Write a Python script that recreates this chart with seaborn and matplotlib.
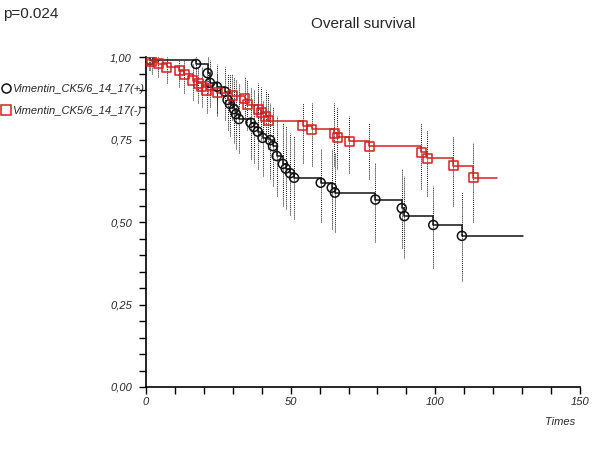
import numpy as np
import pandas as pd
import matplotlib
matplotlib.use("Agg")
import matplotlib.pyplot as plt
from matplotlib.lines import Line2D
from matplotlib.ticker import MultipleLocator, FixedLocator, FuncFormatter
import seaborn as sns

# Kaplan-Meier estimates
pos_times = [1.4, 17.3, 21.3, 22.1, 24.5, 27.3, 28.2, 29.0, 30.4, 31.1, 32.1, 36.2, 37.3, 38.6,
             40.3, 42.9, 43.9, 45.2, 47.3, 48.3, 49.8, 51.2, 60.4, 64.2, 65.3, 79.3, 88.4, 89.3,
             99.3, 109.2]
pos_surv = [0.991, 0.979, 0.951, 0.922, 0.910, 0.895, 0.870, 0.858, 0.842, 0.827, 0.812, 0.801,
            0.788, 0.774, 0.755, 0.748, 0.730, 0.700, 0.676, 0.662, 0.648, 0.634, 0.619, 0.604,
            0.589, 0.568, 0.542, 0.518, 0.491, 0.458]
pos_lo = [0.96, 0.94, 0.89, 0.85, 0.83, 0.81, 0.78, 0.76, 0.74, 0.72, 0.71, 0.69, 0.68, 0.66,
          0.64, 0.63, 0.61, 0.58, 0.55, 0.54, 0.52, 0.51, 0.50, 0.48, 0.47, 0.44, 0.42, 0.39,
          0.36, 0.32]
pos_hi = [1.00, 1.00, 1.00, 0.99, 0.98, 0.97, 0.95, 0.95, 0.94, 0.93, 0.92, 0.91, 0.90, 0.89,
          0.87, 0.86, 0.85, 0.82, 0.80, 0.79, 0.77, 0.76, 0.72, 0.72, 0.71, 0.68, 0.66, 0.64,
          0.61, 0.59]
pos_end = 130.2

neg_times = [1.1, 2.0, 4.3, 7.2, 11.5, 13.2, 16.1, 18.1, 19.3, 21.0, 24.6, 29.8, 34.2, 35.0,
             38.8, 39.8, 41.4, 42.3, 54.2, 57.3, 65.0, 66.1, 70.2, 77.2, 95.1, 97.2, 106.2, 113.1]
neg_surv = [0.991, 0.986, 0.979, 0.969, 0.958, 0.948, 0.928, 0.920, 0.910, 0.900, 0.892, 0.882,
            0.873, 0.855, 0.842, 0.831, 0.821, 0.807, 0.791, 0.781, 0.769, 0.757, 0.745, 0.730,
            0.711, 0.693, 0.670, 0.634]
neg_lo = [0.96, 0.95, 0.94, 0.92, 0.91, 0.89, 0.87, 0.86, 0.85, 0.83, 0.82, 0.81, 0.80, 0.78,
          0.76, 0.75, 0.74, 0.72, 0.68, 0.67, 0.67, 0.66, 0.65, 0.63, 0.60, 0.58, 0.55, 0.50]
neg_hi = [1.00, 1.00, 1.00, 1.00, 0.99, 0.99, 0.98, 0.97, 0.97, 0.96, 0.95, 0.95, 0.94, 0.93,
          0.92, 0.91, 0.90, 0.89, 0.86, 0.86, 0.86, 0.85, 0.82, 0.80, 0.80, 0.78, 0.76, 0.74]
neg_end = 121.2

labels = ["Vimentin_CK5/6_14_17(+)", "Vimentin_CK5/6_14_17(-)"]
p_text = "p=0.024"

sns.set_style("ticks")
plt.rcParams['font.family'] = ['Liberation Sans', 'DejaVu Sans']

fig = plt.figure(figsize=(6, 4.5), dpi=100)
ax = fig.add_axes([0.2433, 0.14, 0.7233, 0.7333])

red = "#d42020"
groups = [
    (pos_times, pos_surv, pos_lo, pos_hi, pos_end, "#111111", "o", 6.5),
    (neg_times, neg_surv, neg_lo, neg_hi, neg_end, red, "s", 6.5),
]

for times, surv, lo, hi, end, col, mk, ms in groups:
    # confidence intervals as dotted vertical lines
    ax.vlines(times, lo, hi, colors="#111111", linestyles=(0, (1, 1)), linewidth=0.7, zorder=1)
    step = pd.DataFrame({"t": [0] + times + [end], "s": [1.0] + surv + [surv[-1]]})
    sns.lineplot(data=step, x="t", y="s", drawstyle="steps-post", color=col, linewidth=1.1,
                 estimator=None, sort=False, ax=ax, zorder=2)
    pts = pd.DataFrame({"t": times, "s": surv})
    sns.scatterplot(data=pts, x="t", y="s", marker=mk, s=ms ** 2, facecolor="none",
                    edgecolor=col, linewidth=1.1, ax=ax, zorder=3)

ax.set_xlim(0, 150)
ax.set_ylim(0, 1)
sns.despine(ax=ax)
for sp in ["left", "bottom"]:
    ax.spines[sp].set_color("black")
    ax.spines[sp].set_linewidth(1.2)

ax.xaxis.set_major_locator(FixedLocator([0, 50, 100, 150]))
ax.xaxis.set_minor_locator(MultipleLocator(10))
ax.yaxis.set_major_locator(FixedLocator([0, 0.25, 0.5, 0.75, 1.0]))
ax.yaxis.set_minor_locator(MultipleLocator(0.05))
ax.yaxis.set_major_formatter(FuncFormatter(lambda v, p: f"{v:.2f}".replace(".", ",")))
ax.tick_params(which="both", direction="out", length=5, width=1, color="black", labelsize=8)
ax.tick_params(axis="x", pad=2)
ax.tick_params(axis="y", pad=5)
for lab in ax.get_xticklabels() + ax.get_yticklabels():
    lab.set_fontstyle("italic")

ax.set_xlabel("")
ax.set_ylabel("")
ax.text(0.99, -0.092, "Times", transform=ax.transAxes, ha="right", va="top",
        fontsize=8, fontstyle="italic")
ax.set_title("Overall survival", fontsize=11, pad=21)
fig.text(0.005, 0.985, p_text, fontsize=11, ha="left", va="top")

handles = [
    Line2D([], [], linestyle="none", marker="o", markersize=6.5, markerfacecolor="none",
           markeredgecolor="#111111", markeredgewidth=1.1),
    Line2D([], [], linestyle="none", marker="s", markersize=6.5, markerfacecolor="none",
           markeredgecolor=red, markeredgewidth=1.1),
]
fig.legend(handles, labels, loc="upper left", bbox_to_anchor=(0.004, 0.813), frameon=False,
           handlelength=0.7, handletextpad=0.15, labelspacing=1.1, borderpad=0,
           borderaxespad=0, prop={"size": 8, "style": "italic"})

fig.savefig("out.png", dpi=100)
